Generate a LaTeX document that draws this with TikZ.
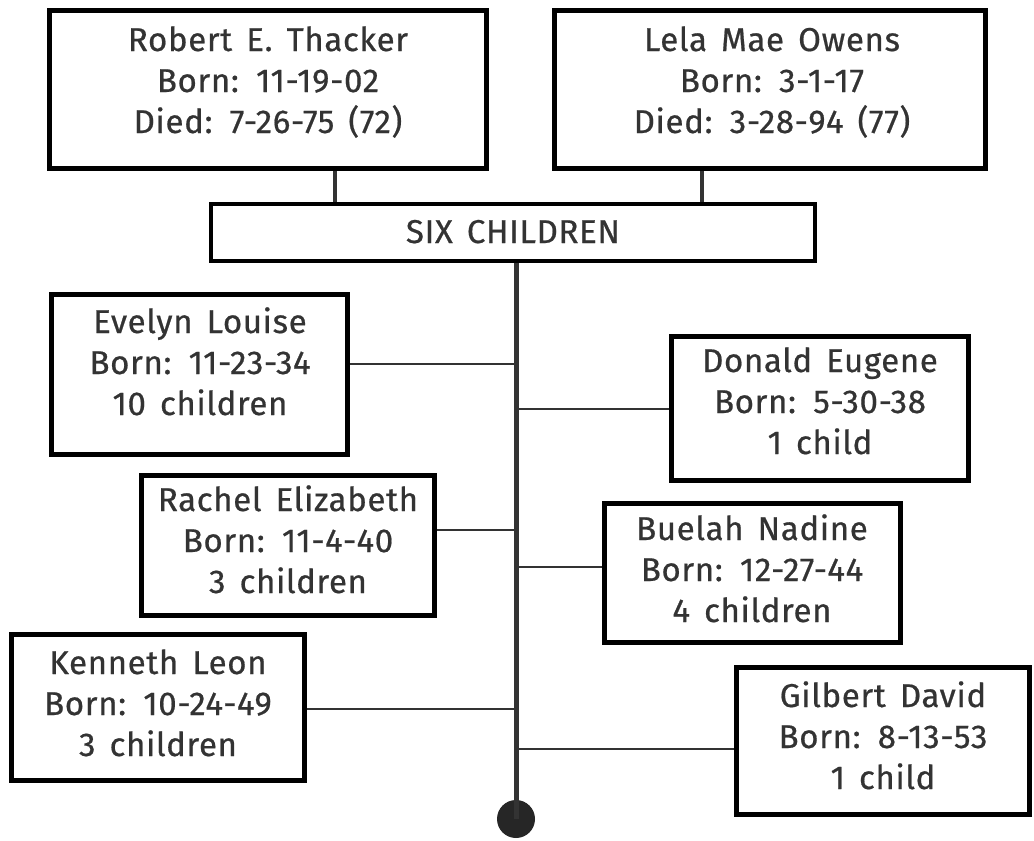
\documentclass[tikz,border=0pt]{standalone}
\usepackage{fontspec}
\setmainfont[LetterSpace=2,WordSpace=1.5,FakeBold=0.6]{Fira Sans}
\begin{document}
\begin{tikzpicture}[x=1pt,y=-1pt,
  box/.style={draw=black,line width=5pt,inner sep=0pt,fill=white},
  txt/.style={anchor=base,align=center,text=black!80,inner sep=0pt,
    font=\fontsize{33}{41}\selectfont},
  link/.style={draw=black!80,line width=2.5pt},
  stem/.style={draw=black!80,line width=4pt},
  trunk/.style={draw=black!80,line width=5pt}]
\useasboundingbox (0,0) rectangle (1034,841);
\fill[white] (0,0) rectangle (1034,841);

% parents (text nodes are placed by the baseline of their last line)
\node[box,minimum width=437,minimum height=158] (rob) at (268,89.5) {};
\node[txt] (robt) at (268,133) {Robert E. Thacker\\Born: 11-19-02\\Died: 7-26-75 (72)};
\node[box,minimum width=431,minimum height=158] (lela) at (770,89.5) {};
\node[txt] (lelat) at (772,133) {Lela Mae Owens\\Born: 3-1-17\\Died: 3-28-94 (77)};

% children header
\node[box,line width=4pt,minimum width=604,minimum height=57] (six) at (513,232.5) {};
\node[txt] (sixt) at (513,243) {SIX CHILDREN};

\coordinate (pr) at (335,0);
\coordinate (pl) at (702,0);
\draw[stem] (rob.south -| pr) -- (six.north -| pr);
\draw[stem] (lela.south -| pl) -- (six.north -| pl);

% end of the line
\node[circle,fill=black!85,minimum size=38,inner sep=0pt] (end) at (516,819) {};
\draw[trunk] (six.south -| end) -- (end.center);

% children
\node[box,minimum width=296,minimum height=160] (ev) at (199.5,374.5) {};
\node[txt] (evt) at (200,415) {Evelyn Louise\\Born: 11-23-34\\10 children};
\node[box,minimum width=297,minimum height=144] (don) at (820,408.5) {};
\node[txt] (dont) at (820,454) {Donald Eugene\\Born: 5-30-38\\1 child};
\node[box,minimum width=293,minimum height=140] (ra) at (288,545.5) {};
\node[txt] (rat) at (288,593) {Rachel Elizabeth\\Born: 11-4-40\\3 children};
\node[box,minimum width=296,minimum height=139] (bu) at (752.5,573) {};
\node[txt] (but) at (752,622) {Buelah Nadine\\Born: 12-27-44\\4 children};
\node[box,minimum width=293,minimum height=146] (ke) at (158,707.5) {};
\node[txt] (ket) at (158,756) {Kenneth Leon\\Born: 10-24-49\\3 children};
\node[box,minimum width=293,minimum height=147] (gi) at (883,741) {};
\node[txt] (git) at (883,789) {Gilbert David\\Born: 8-13-53\\1 child};

% junctions on the trunk
\coordinate (j1) at (516,364);
\coordinate (j2) at (516,409);
\coordinate (j3) at (516,530);
\coordinate (j4) at (516,567);
\coordinate (j5) at (516,709);
\coordinate (j6) at (516,749);
\draw[link] (ev.east |- j1) -- (j1);
\draw[link] (don.west |- j2) -- (j2);
\draw[link] (ra.east |- j3) -- (j3);
\draw[link] (bu.west |- j4) -- (j4);
\draw[link] (ke.east |- j5) -- (j5);
\draw[link] (gi.west |- j6) -- (j6);
\end{tikzpicture}
\end{document}
